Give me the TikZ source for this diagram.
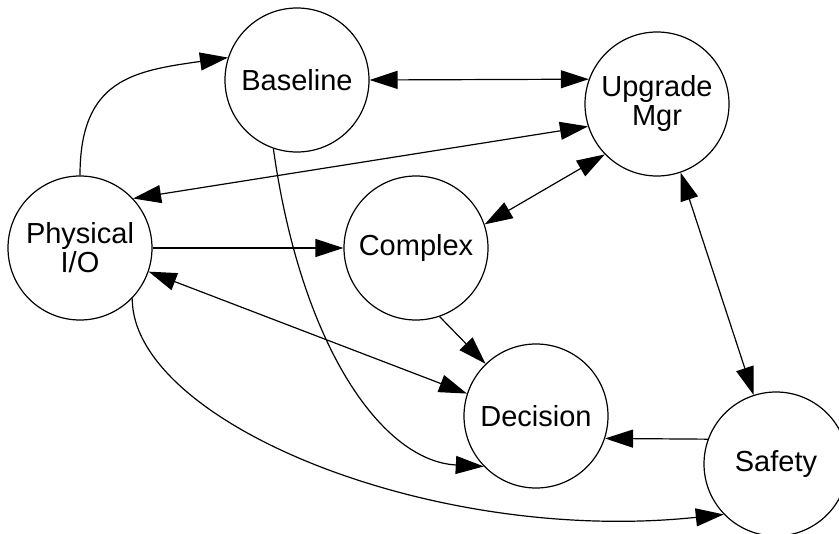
\documentclass[tikz,border=0pt]{standalone}
\usepackage{fontspec}
\setmainfont{Liberation Sans}
\usetikzlibrary{arrows.meta}

\begin{document}
\begin{tikzpicture}[x=0.5pt,y=0.5pt]
        \tikzstyle{unit}=[circle, draw, line width=0.6pt, inner sep=0pt, minimum size=72pt, align=center, font=\fontsize{14.5}{14.5}\selectfont]
        \tikzstyle{link}=[line width=0.6pt, -{Triangle[length=14pt,width=9pt]}]
        \tikzstyle{dlink}=[line width=0.6pt, {Triangle[length=14pt,width=9pt]}-{Triangle[length=14pt,width=9pt]}]

        \useasboundingbox (0,0) rectangle (839,-534);

        \node[unit] (base) at (297,-80) {Baseline};
        \node[unit] (upg) at (657,-104) {Upgrade\\Mgr};
        \node[unit] (phys) at (80,-248) {Physical\\I/O};
        \node[unit] (cplx) at (416,-248) {Complex};
        \node[unit] (dec) at (536,-416) {Decision};
        \node[unit] (safe) at (776,-464) {Safety};

        \draw[link] (phys.north) to[out=90,in=188,looseness=1.3] (base.162);
        \draw[dlink] (base.east) -- (upg.160);
        \draw[dlink] (upg.198) -- (phys.43);
        \draw[link] (phys.east) -- (cplx.west);
        \draw[dlink] (cplx.19) -- (upg.224);
        \draw[dlink] (upg.289) -- (safe.108);
        \draw[link] (cplx.289) -- (dec.134);
        \draw[dlink] (phys.341) -- (dec.162);
        \draw[link] (base.251) to[out=-82,in=177,out looseness=1.35,in looseness=0.68] (dec.224);
        \draw[link] (phys.316) to[out=-90,in=186,out looseness=0.5,in looseness=1.2] (safe.224);
        \draw[link] (safe.160) -- (dec.342);
    \end{tikzpicture}
\end{document}
